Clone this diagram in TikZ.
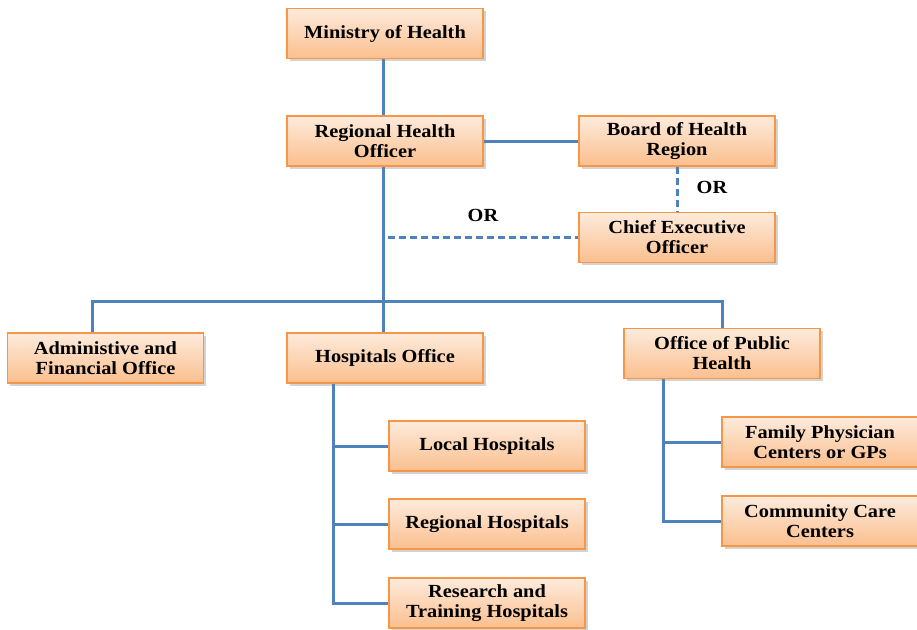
\documentclass[tikz,border=0pt]{standalone}
\usepackage{fontspec}
\setmainfont{Liberation Serif}[FakeStretch=1.1]
\usepackage{xcolor}
\usetikzlibrary{shadows,backgrounds}

\definecolor{boxedge}{HTML}{F79646}
\definecolor{boxtop}{HTML}{FDEBDC}
\definecolor{boxbottom}{HTML}{FBBF8E}
\definecolor{linkblue}{HTML}{4F81BD}

\tikzset{
    unit/.style={draw=boxedge, line width=1.3pt,
                 top color=boxtop, bottom color=boxbottom,
                 drop shadow={shadow xshift=2.5pt, shadow yshift=-2.5pt, opacity=0.35},
                 minimum width=196pt, minimum height=50pt,
                 inner sep=0pt, align=center,
                 font=\fontsize{18.5}{20}\selectfont\bfseries},
    link/.style={draw=linkblue, line width=3pt},
    orlink/.style={link, dash pattern=on 7pt off 4pt},
    ortext/.style={font=\fontsize{18.5}{20}\selectfont\bfseries}
}

\begin{document}
\begin{tikzpicture}[x=1pt, y=-1pt]
            \useasboundingbox (0,0) rectangle (917,629);
            % top of the chart
            \node[unit] (ministry) at (385,33.5) {Ministry of Health};
            \node[unit] (rho) at (385,141) {Regional Health\\Officer};
            \node[unit] (board) at (677,141) {Board of Health\\Region};
            \node[unit] (ceo) at (677,237.5) {Chief Executive\\Officer};
            % offices
            \node[unit] (admin) at (105.5,358) {Administive and\\Financial Office};
            \node[unit] (hosp) at (385,358) {Hospitals Office};
            \node[unit] (oph) at (722,353.5) {Office of Public\\Health};
            % hospitals
            \node[unit] (local) at (487,446) {Local Hospitals};
            \node[unit] (regional) at (487,524) {Regional Hospitals};
            \node[unit] (research) at (487,603) {Research and\\Training Hospitals};
            % public health
            \node[unit] (family) at (820,442) {Family Physician\\Centers or GPs};
            \node[unit] (community) at (820,521) {Community Care\\Centers};

            \coordinate (bus) at (383,301);
            \coordinate (ortap) at (388,237.5);
            \coordinate (hosptrunk) at (333,603);
            \coordinate (phtrunk) at (663,521);

            \begin{scope}[on background layer]
                \draw[link] (ministry.south -| bus) -- (rho.north -| bus);
                \draw[link] (rho) -- (board);
                \draw[link] (rho.south -| bus) -- (hosp.north -| bus);
                \draw[link] (admin.north -| 92,0) |- (bus) -| (oph.north);
                \draw[orlink] (board.south) -- (ceo.north);
                \draw[orlink] (ortap) -- (ceo.west);
                \draw[link] (hosp.south -| hosptrunk) -- (hosptrunk) -- (research.west);
                \draw[link] (hosptrunk |- local.west) -- (local.west);
                \draw[link] (hosptrunk |- regional.west) -- (regional.west);
                \draw[link] (oph.south -| phtrunk) -- (phtrunk) -- (community.west);
                \draw[link] (phtrunk |- family.west) -- (family.west);
            \end{scope}

            \node[ortext] (or1) at (483,215) {OR};
            \node[ortext] (or2) at (712,187) {OR};
        \end{tikzpicture}
\end{document}
